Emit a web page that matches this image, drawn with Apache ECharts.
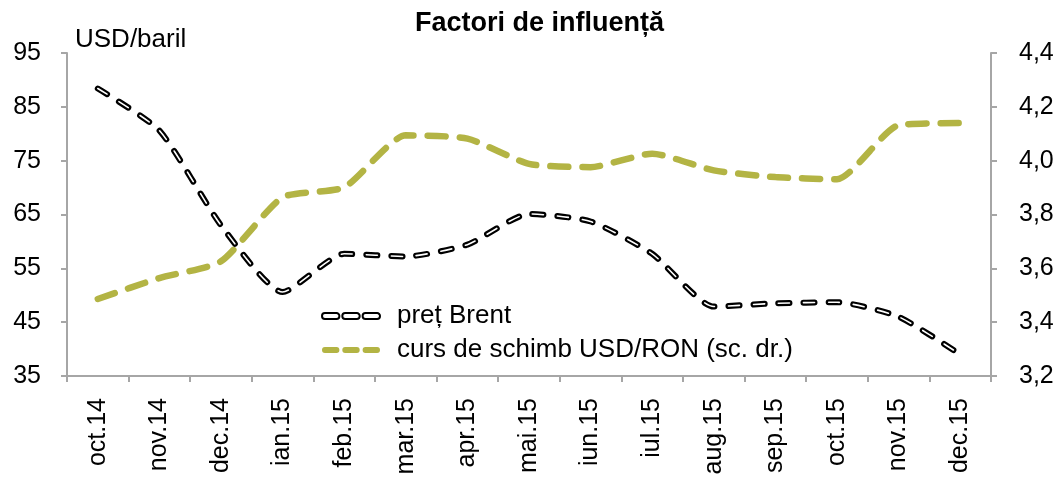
<!DOCTYPE html>
<html>
<head>
<meta charset="utf-8">
<script src="https://cdn.jsdelivr.net/npm/echarts@6/dist/echarts.min.js"></script>
<style>
    html, body { margin: 0; padding: 0; background: #fff; }
    #chart { width: 1059px; height: 480px; }
</style>
</head>
<body>
<div id="chart"></div>
<script>
// date
const luni = ['oct.14', 'nov.14', 'dec.14', 'ian.15', 'feb.15', 'mar.15', 'apr.15', 'mai.15',
    'iun.15', 'iul.15', 'aug.15', 'sep.15', 'oct.15', 'nov.15', 'dec.15'];
const pretBrent = [88.4, 80.6, 63.0, 50.6, 57.7, 57.2, 59.4, 65.1, 63.7, 57.7, 47.9, 48.5, 48.7, 46.0, 39.0];
const cursUsdRon = [3.486, 3.564, 3.626, 3.864, 3.901, 4.094, 4.082, 3.988, 3.976, 4.026, 3.964, 3.939, 3.931, 4.132, 4.140];
const scalaStanga = { min: 35, max: 95, interval: 10 };
const scalaDreapta = { min: 3.2, max: 4.4, interval: 0.2 };

const FONT = '"Liberation Sans", Arial, sans-serif';
const AXA = '#a6a6a6';
const OLIV = '#b3b444';
// trei liniute pentru iconita din legenda
const ICON_LINIUTE = 'path://M3,0h12a3,3 0 0 1 0,6h-12a3,3 0 0 1 0,-6z M24,0h12a3,3 0 0 1 0,6h-12a3,3 0 0 1 0,-6z M45,0h12a3,3 0 0 1 0,6h-12a3,3 0 0 1 0,-6z';

var myChart = echarts.init(document.getElementById('chart'));

var options = {
    animation: false,
    textStyle: { fontFamily: FONT },
    title: {
        text: 'Factori de influență',
        left: 410,
        top: 5,
        textStyle: { fontFamily: FONT, fontSize: 27, fontWeight: 'bold', color: '#000' }
    },
    legend: {
        data: [
            { name: 'preț Brent', icon: ICON_LINIUTE, itemStyle: { color: '#fff', borderColor: '#000', borderWidth: 2 } },
            { name: 'curs de schimb USD/RON (sc. dr.)', icon: ICON_LINIUTE, itemStyle: { color: OLIV, borderWidth: 0 } }
        ],
        orient: 'vertical',
        left: 316,
        top: 298,
        itemWidth: 58,
        itemHeight: 7,
        itemGap: 8,
        textStyle: { fontFamily: FONT, fontSize: 26, color: '#000', padding: [0, 0, 0, 12] }
    },
    grid: {
        left: 67,
        right: 68,
        top: 53,
        bottom: 104
    },
    xAxis: {
        type: 'category',
        data: luni,
        boundaryGap: true,
        axisLine: { show: true, lineStyle: { color: AXA, width: 2 } },
        axisTick: { show: true, length: 6, lineStyle: { color: AXA, width: 2 } },
        axisLabel: {
            rotate: 90,
            margin: 22,
            color: '#000',
            fontFamily: FONT,
            fontSize: 25
        }
    },
    yAxis: [
        {
            type: 'value',
            position: 'left',
            min: scalaStanga.min,
            max: scalaStanga.max,
            interval: scalaStanga.interval,
            name: 'USD/baril',
            nameLocation: 'end',
            nameGap: 0,
            nameTextStyle: {
                align: 'left',
                verticalAlign: 'bottom',
                padding: [0, 0, 0, 8],
                color: '#000',
                fontFamily: FONT,
                fontSize: 26
            },
            splitLine: { show: false },
            axisLine: { show: true, lineStyle: { color: AXA, width: 2 } },
            axisTick: { show: true, length: 6, lineStyle: { color: AXA, width: 2 } },
            axisLabel: { color: '#000', fontFamily: FONT, fontSize: 25, margin: 26 }
        },
        {
            type: 'value',
            position: 'right',
            min: scalaDreapta.min,
            max: scalaDreapta.max,
            interval: scalaDreapta.interval,
            splitLine: { show: false },
            axisLine: { show: true, lineStyle: { color: AXA, width: 2 } },
            axisTick: { show: true, length: 6, lineStyle: { color: AXA, width: 2 } },
            axisLabel: {
                color: '#000',
                fontFamily: FONT,
                fontSize: 25,
                margin: 28,
                formatter: function (v) { return v.toFixed(1).replace('.', ','); }
            }
        }
    ],
    series: [
        {
            name: 'curs de schimb USD/RON (sc. dr.)',
            type: 'line',
            yAxisIndex: 1,
            data: cursUsdRon,
            smooth: 0.2,
            symbol: 'none',
            color: OLIV,
            lineStyle: { color: OLIV, width: 6.5, type: [18, 14], cap: 'round' }
        },
        {
            name: 'preț Brent',
            type: 'line',
            yAxisIndex: 0,
            data: pretBrent,
            smooth: 0.2,
            symbol: 'none',
            color: '#000',
            lineStyle: { color: '#000', width: 6, type: [11, 14], cap: 'round' }
        },
        {
            // linia alba din interior (efect de linie dubla)
            name: 'brent-interior',
            type: 'line',
            yAxisIndex: 0,
            data: pretBrent,
            smooth: 0.2,
            symbol: 'none',
            silent: true,
            color: '#fff',
            lineStyle: { color: '#fff', width: 1.6, type: [11, 14], cap: 'round' }
        }
    ]
};

myChart.setOption(options);
</script>
</body>
</html>
